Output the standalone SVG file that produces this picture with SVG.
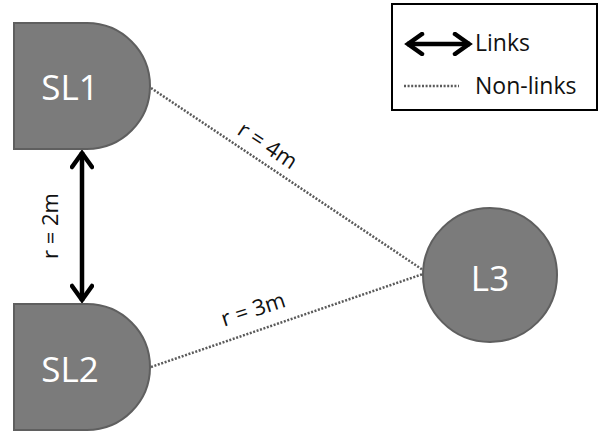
<svg xmlns="http://www.w3.org/2000/svg" width="600" height="432" viewBox="0 0 600 432">
<defs>
<style>
.node{fill:#7b7b7b;stroke:#5f5f5f;stroke-width:2}
.nl{fill:#fff;font-family:"Open Sans","Liberation Sans",sans-serif;font-size:35px;text-anchor:middle}
.lbl{fill:#111;font-family:"Open Sans","Liberation Sans",sans-serif;font-size:22px;text-anchor:middle}
.leg{fill:#111;font-family:"Open Sans","Liberation Sans",sans-serif;font-size:23px}
.dot{stroke:#5a5a5a;stroke-width:2.5;stroke-dasharray:2 1.6;fill:none}
.link{stroke:#000;stroke-width:4.5;fill:none}
</style>
<marker id="ah" viewBox="0 0 24 24" refX="21" refY="12" markerWidth="24" markerHeight="24" orient="auto-start-reverse" markerUnits="userSpaceOnUse">
<path d="M6,2 L20,12 L6,22" fill="none" stroke="#000" stroke-width="4.5" stroke-linejoin="miter" stroke-linecap="round"/>
</marker>
</defs>
<rect width="600" height="432" fill="#fff"/>
<g id="connectors">
<line class="link" x1="82" y1="152" x2="82" y2="301" marker-start="url(#ah)" marker-end="url(#ah)"/>
<line class="dot" x1="151" y1="88" x2="423" y2="270"/>
<line class="dot" x1="151" y1="367" x2="423" y2="274"/>
<text class="lbl" transform="translate(268,145) rotate(33.5)" y="8">r = 4m</text>
<text class="lbl" transform="translate(253,309) rotate(-18)" y="8">r = 3m</text>
<text class="lbl" transform="translate(50,226) rotate(-90)" y="8">r = 2m</text>
</g>
<g id="SL1">
<path class="node" d="M14,23 H87 A63,63 0 0 1 87,149 H14 Z"/>
<text class="nl" x="70" y="100">SL1</text>
</g>
<g id="SL2">
<path class="node" d="M14,304 H87 A63,63 0 0 1 87,430 H14 Z"/>
<text class="nl" x="70" y="382">SL2</text>
</g>
<g id="L3">
<circle class="node" cx="490" cy="275" r="67"/>
<text class="nl" x="490" y="291">L3</text>
</g>
<g id="legend">
<rect x="392" y="4" width="205" height="106" fill="#fff" stroke="#000" stroke-width="2"/>
<line class="link" x1="407" y1="44" x2="470" y2="44" marker-start="url(#ah)" marker-end="url(#ah)"/>
<text class="leg" x="475" y="51">Links</text>
<line class="dot" x1="404" y1="86" x2="459" y2="86"/>
<text class="leg" x="475" y="94">Non-links</text>
</g>
</svg>
